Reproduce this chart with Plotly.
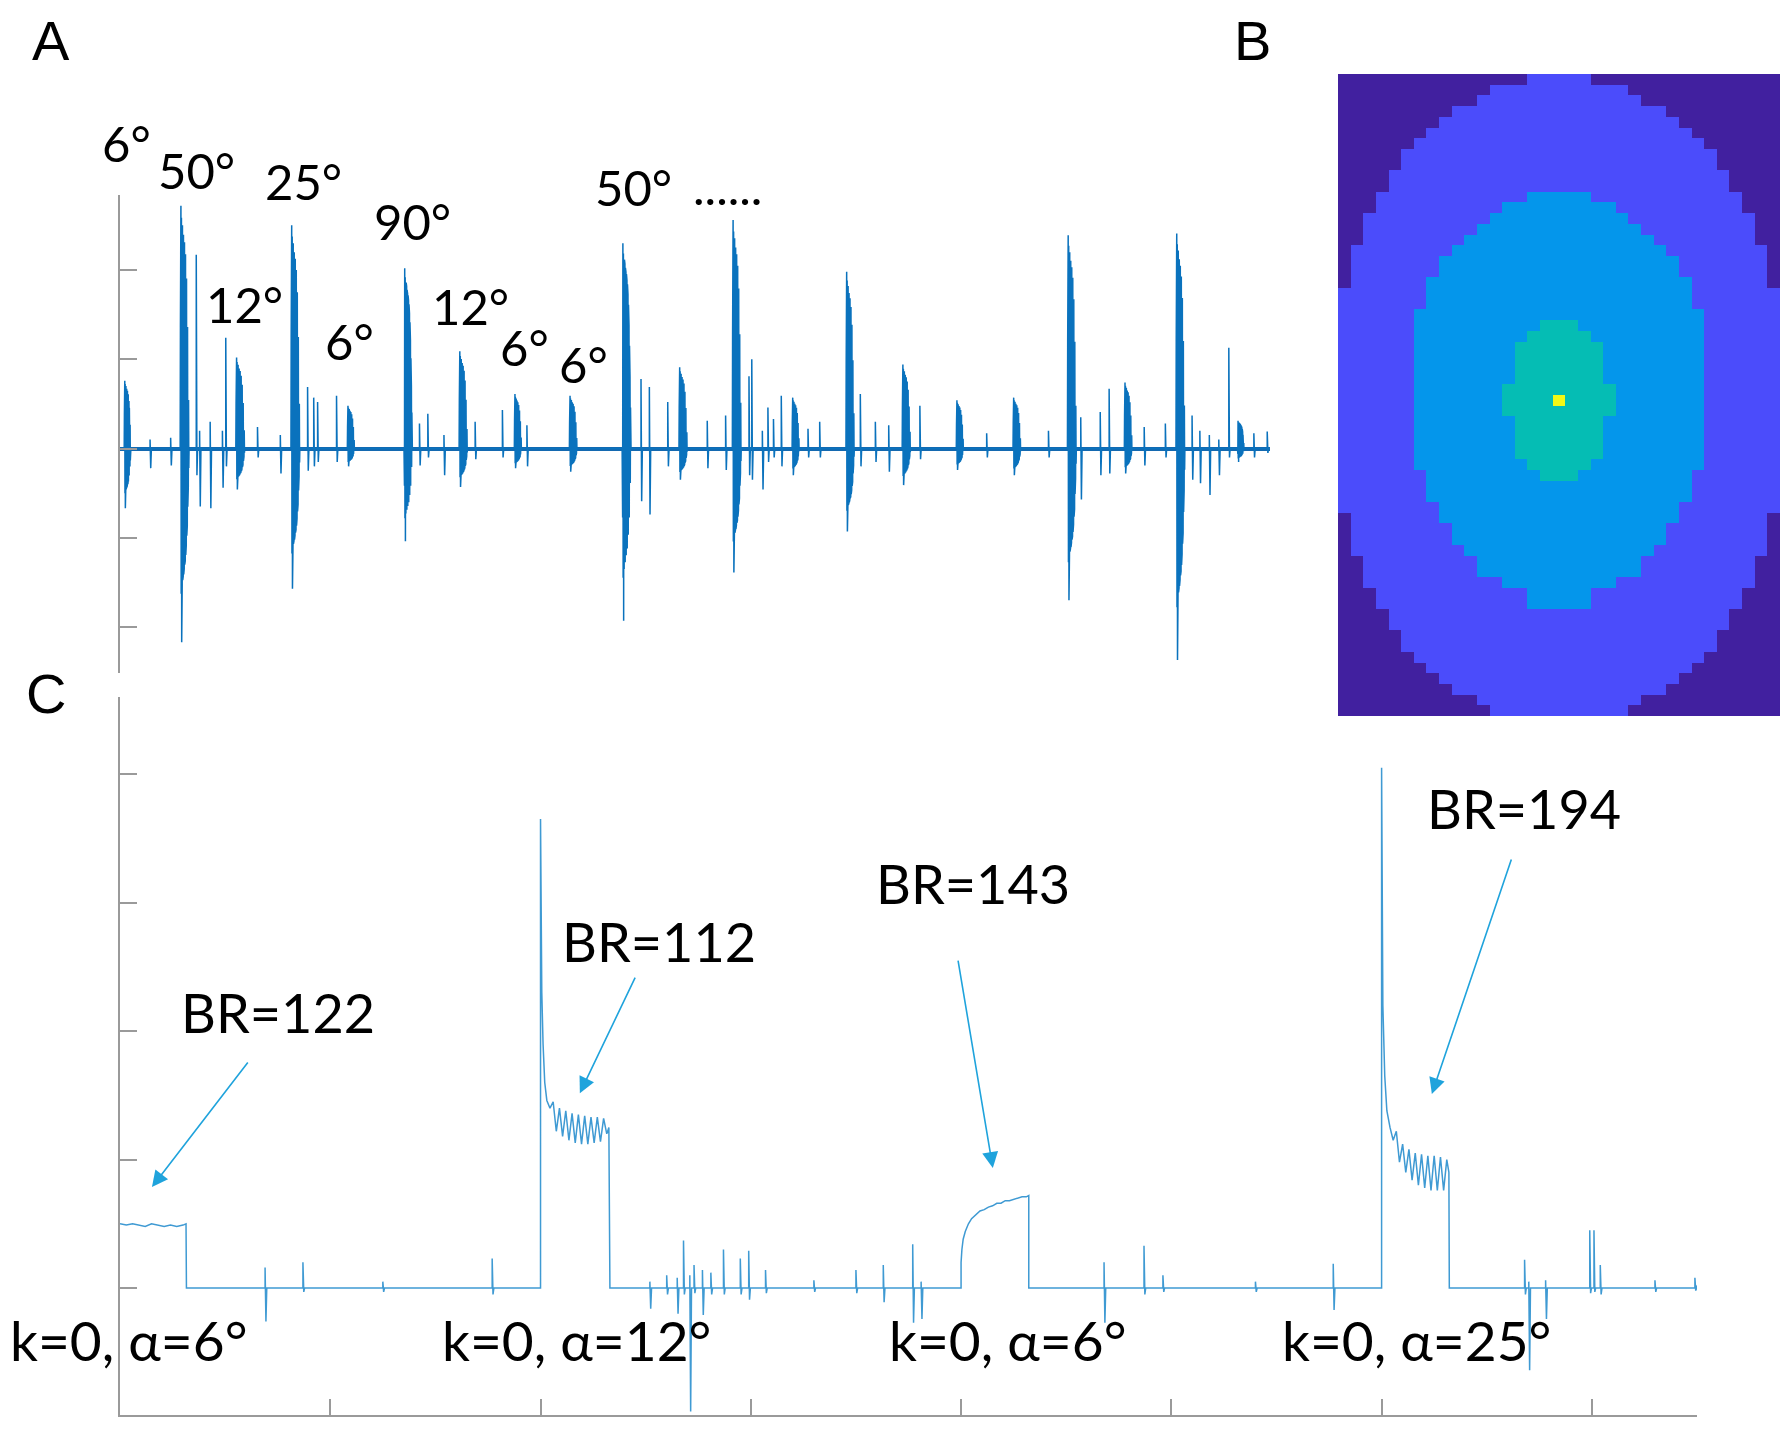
import plotly.graph_objects as go

# page geometry (the html body keeps its default 8px margin)
PAGE_W, PAGE_H, OFF = 1789, 1429, 8
FW, FH = PAGE_W - 2 * OFF, PAGE_H - 2 * OFF


def px(x):
    return (x - OFF) / FW


def py(y):
    return 1 - (y - OFF) / FH


# ---------------- Panel A : burst train (arbitrary units) ----------------
A_burst_t = [0.09, 1.10, 2.10, 3.09, 4.10, 5.12, 6.11, 7.10, 8.09, 9.04, 10.06,
             11.02, 12.09, 13.06, 14.07, 15.04, 16.06, 17.04, 18.06, 18.99, 20.09]
A_burst_top = [0.76, 2.72, 1.02, 2.50, 0.48, 2.02, 1.09, 0.61, 0.59, 2.30, 0.91,
               2.56, 0.57, 1.98, 0.94, 0.54, 0.57, 2.39, 0.74, 2.41, 0.31]
A_burst_bottom = [-0.67, -2.17, -0.46, -1.57, -0.20, -1.04, -0.43, -0.22, -0.26, -1.93, -0.35,
                  -1.39, -0.30, -0.93, -0.41, -0.24, -0.30, -1.70, -0.28, -2.37, -0.15]
A_burst_width = [0.12, 0.16, 0.16, 0.16, 0.13, 0.15, 0.15, 0.13, 0.14, 0.16, 0.15,
                 0.16, 0.13, 0.15, 0.15, 0.13, 0.14, 0.16, 0.14, 0.16, 0.12]
# normalised oscillation of one burst (read from the largest bursts)
A_shape = [0.0, 0.5, -0.4, 1.0, -0.75, 0.95, -1.0, 0.9, -0.7, 0.92, -0.68, 0.9, -0.66,
           0.88, -0.65, 0.86, -0.62, 0.85, -0.6, 0.82, -0.58, 0.8, -0.55, 0.75, -0.5,
           0.7, -0.45, 0.6, -0.4, 0.5, -0.3, 0.35, -0.2, 0.2, -0.1, 0.0]
A_spike_t = [0.54, 0.91, 1.37, 1.43, 1.62, 1.84, 1.90, 2.47, 2.88, 3.37, 3.48, 3.55, 3.89,
             5.38, 5.53, 5.82, 6.38, 6.87, 7.31, 9.36, 9.51, 9.84, 10.55, 10.88, 11.30,
             11.35, 11.54, 11.64, 11.74, 11.88, 12.36, 12.57, 13.30, 13.57, 13.81, 14.37,
             15.57, 16.68, 17.26, 17.61, 17.77, 18.40, 18.78, 19.26, 19.40, 19.57, 19.74,
             19.92, 20.37, 20.61]
A_spike_up = [0.10, 0.12, 2.17, 0.20, 0.30, 0.20, 1.24, 0.24, 0.15, 0.69, 0.57, 0.52, 0.59,
              0.28, 0.39, 0.15, 0.30, 0.43, 0.26, 0.78, 0.69, 0.52, 0.31, 0.37, 0.81,
              1.00, 0.20, 0.46, 0.33, 0.59, 0.22, 0.30, 0.61, 0.30, 0.26, 0.48,
              0.17, 0.20, 0.35, 0.41, 0.67, 0.24, 0.28, 0.37, 0.20, 0.15, 0.10,
              1.13, 0.17, 0.19]
A_spike_dn = [-0.22, -0.19, -0.30, -0.65, -0.67, -0.44, -0.20, -0.10, -0.28, -0.25, -0.20, -0.15, -0.15,
              -0.19, -0.10, -0.30, -0.12, -0.10, -0.20, -0.59, -0.74, -0.20, -0.22, -0.24, -0.30,
              -0.35, -0.46, -0.15, -0.10, -0.20, -0.10, -0.10, -0.20, -0.15, -0.26, -0.12,
              -0.10, -0.10, -0.57, -0.30, -0.28, -0.19, -0.10, -0.35, -0.39, -0.52, -0.30,
              -0.10, -0.10, -0.05]
A_end = 20.66
A_labels = ["6°", "50°", "25°", "12°", "90°", "6°", "12°", "6°", "6°", "50°", "......"]

# ---------------- Panel B : discrete map (rows x 35 columns) ----------------
B_ncols = 35
B_center_col = 17
# half-width (in cells) of each level per row, -1 = level absent in that row
B_hw_level1 = [2, 5, 6, 8, 9, 10, 11, 12, 12, 13, 13, 14, 14, 15, 15, 15, 16, 16, 16, 16,
               17, 17, 17, 17, 17, 17, 17, 17, 17, 17, 17, 17, 17, 17, 17, 17, 17, 17, 17, 17,
               17, 16, 16, 16, 16, 15, 15, 15, 14, 14, 13, 13, 12, 12, 11, 10, 9, 8, 6, 5]
B_hw_level2 = [-1] * 11 + [2, 4, 5, 6, 7, 8, 9, 9, 10, 10,
                           10, 11, 11, 11, 11, 11, 11, 11, 11, 11,
                           11, 11, 11, 11, 11, 11, 10, 10, 10, 9,
                           9, 8, 8, 7, 6, 6, 4, 2, 2] + [-1] * 10
B_hw_level3 = [-1] * 23 + [1, 2, 3, 3, 3, 3, 4, 4, 4, 3, 3, 3, 3, 2, 1] + [-1] * 22
B_hw_level4 = [-1] * 30 + [0] + [-1] * 29
B_colors = ["#41209f", "#4b4cfb", "#0496eb", "#05bdb4", "#f3f815"]

# ---------------- Panel C : traces with plateaus ----------------
C_plateau1_x = [0.0, 0.03, 0.06, 0.09, 0.12, 0.15, 0.18, 0.21, 0.24, 0.27, 0.30, 0.314, 0.316]
C_plateau1_y = [0.50, 0.49, 0.50, 0.49, 0.48, 0.50, 0.49, 0.48, 0.49, 0.48, 0.49, 0.50, 0.0]
C_ev2_x = [2.0, 2.0, 2.006, 2.012, 2.02, 2.03, 2.045, 2.06, 2.075, 2.09, 2.105, 2.12, 2.135,
           2.15, 2.165, 2.18, 2.195, 2.21, 2.225, 2.24, 2.255, 2.27, 2.285, 2.30, 2.315,
           2.325, 2.33]
C_ev2_y = [0, 3.65, 2.3, 1.9, 1.6, 1.46, 1.40, 1.45, 1.22, 1.40, 1.18, 1.38, 1.15, 1.36,
           1.13, 1.35, 1.12, 1.34, 1.12, 1.33, 1.13, 1.33, 1.14, 1.32, 1.20, 1.25, 0]
C_ev3_x = [4.0, 4.0, 4.004, 4.01, 4.02, 4.035, 4.05, 4.07, 4.09, 4.11, 4.13, 4.15, 4.17,
           4.19, 4.21, 4.23, 4.25, 4.27, 4.29, 4.31, 4.322, 4.322]
C_ev3_y = [0, 0.2, 0.3, 0.38, 0.44, 0.5, 0.54, 0.57, 0.6, 0.61, 0.63, 0.64, 0.66, 0.66,
           0.68, 0.68, 0.69, 0.70, 0.71, 0.71, 0.72, 0]
C_ev4_x = [6.0, 6.0, 6.006, 6.015, 6.025, 6.04, 6.055, 6.07, 6.085, 6.10, 6.115, 6.13,
           6.145, 6.16, 6.175, 6.19, 6.205, 6.22, 6.235, 6.25, 6.265, 6.28, 6.295, 6.31,
           6.32, 6.322]
C_ev4_y = [0, 4.05, 2.2, 1.65, 1.38, 1.25, 1.15, 1.22, 0.98, 1.12, 0.9, 1.08, 0.84, 1.05,
           0.8, 1.04, 0.78, 1.03, 0.76, 1.03, 0.76, 1.02, 0.76, 1.0, 0.9, 0]
C_spike_x = [0.69, 0.87, 1.25, 1.77, 2.52, 2.60, 2.65, 2.68, 2.71, 2.73, 2.77, 2.81, 2.87,
             2.95, 2.99, 3.07, 3.30, 3.50, 3.63, 3.77, 3.81, 4.68, 4.87, 4.96, 5.40, 5.77,
             6.68, 6.70, 6.78, 6.99, 7.01, 7.04, 7.30, 7.49]
C_spike_up = [0.16, 0.20, 0.05, 0.23, 0.05, 0.10, 0.08, 0.37, 0.10, 0.18, 0.14, 0.12, 0.30,
              0.23, 0.29, 0.14, 0.06, 0.14, 0.18, 0.34, 0.05, 0.20, 0.33, 0.10, 0.05, 0.19,
              0.22, 0.05, 0.06, 0.45, 0.45, 0.18, 0.06, 0.08]
C_spike_dn = [-0.26, -0.03, -0.03, -0.05, -0.16, -0.05, -0.20, -0.05, -0.96, -0.04, -0.21, -0.05, -0.05,
              -0.05, -0.09, -0.04, -0.03, -0.04, -0.11, -0.27, -0.24, -0.27, -0.05, -0.03, -0.03, -0.17,
              -0.05, -0.64, -0.24, -0.04, -0.03, -0.05, -0.03, -0.02]
C_end = 7.5
C_br_labels = ["BR=122", "BR=112", "BR=143", "BR=194"]
C_k_labels = ["k=0, α=6°", "k=0, α=12°", "k=0, α=6°", "k=0, α=25°"]

# ---------------- build series ----------------
events = []
for t, top, bot, w in zip(A_burst_t, A_burst_top, A_burst_bottom, A_burst_width):
    n = len(A_shape)
    t0 = t - 0.12 * w
    xs = [t0 + w * k / (n - 1) for k in range(n)]
    ys = [s * top if s >= 0 else -s * bot for s in A_shape]
    events.append((t0, xs, ys))
for t, up, dn in zip(A_spike_t, A_spike_up, A_spike_dn):
    events.append((t, [t, t, t + 0.012, t + 0.024], [0, up, dn, 0]))
events.sort(key=lambda e: e[0])
A_x, A_y = [0.0], [0.0]
for _, xs, ys in events:
    A_x += xs
    A_y += ys
A_x.append(A_end)
A_y.append(0.0)

c_events = [(C_plateau1_x[0], C_plateau1_x, C_plateau1_y),
            (C_ev2_x[0], C_ev2_x, C_ev2_y),
            (C_ev3_x[0], C_ev3_x, C_ev3_y),
            (C_ev4_x[0], C_ev4_x, C_ev4_y)]
for t, up, dn in zip(C_spike_x, C_spike_up, C_spike_dn):
    c_events.append((t, [t, t, t + 0.004, t + 0.008], [0, up, dn, 0]))
c_events.sort(key=lambda e: e[0])
C_x, C_y = [], []
for _, xs, ys in c_events:
    C_x += xs
    C_y += ys
C_x.append(C_end)
C_y.append(0.02)

B_z = []
for r in range(len(B_hw_level1)):
    row = []
    for c in range(B_ncols):
        d = abs(c - B_center_col)
        lvl = 0
        for L, hw in enumerate([B_hw_level1, B_hw_level2, B_hw_level3, B_hw_level4], start=1):
            if hw[r] >= d:
                lvl = L
        row.append(lvl)
    B_z.append(row)

cs = []
nlev = len(B_colors)
for i, col in enumerate(B_colors):
    lo = max(0.0, (i - 0.5) / (nlev - 1))
    hi = min(1.0, (i + 0.5) / (nlev - 1))
    cs.append([lo, col])
    cs.append([hi, col])

# ---------------- figure ----------------
fig = go.Figure()
fig.add_trace(go.Scatter(x=A_x, y=A_y, mode="lines", xaxis="x", yaxis="y",
                         line=dict(color="#0a72bd", width=1.5), hoverinfo="skip"))
fig.add_trace(go.Heatmap(z=B_z, xaxis="x2", yaxis="y2", colorscale=cs, zmin=0,
                         zmax=nlev - 1, showscale=False, hoverinfo="skip"))
fig.add_trace(go.Scatter(x=C_x, y=C_y, mode="lines", xaxis="x3", yaxis="y3",
                         line=dict(color="#3f9ad3", width=1.5), hoverinfo="skip"))

axis_grey = "#9a9a9a"
fig.update_layout(
    width=FW, height=FH, margin=dict(l=0, r=0, t=0, b=0),
    paper_bgcolor="white", plot_bgcolor="rgba(0,0,0,0)", showlegend=False,
    xaxis=dict(domain=[px(120), px(1270)], range=[0, A_end], visible=False, anchor="y"),
    yaxis=dict(domain=[py(673), py(195)], range=[-2.515, 2.84], anchor="x",
               showline=True, linecolor=axis_grey, linewidth=2,
               ticks="inside", tickvals=[-2, -1, 0, 1, 2], ticklen=17, tickwidth=2,
               tickcolor=axis_grey, showticklabels=False, showgrid=False,
               zeroline=True, zerolinecolor="#1469b0", zerolinewidth=4),
    xaxis2=dict(domain=[px(1338), px(1780)], range=[-0.5, B_ncols - 0.5], visible=False,
                anchor="y2"),
    yaxis2=dict(domain=[py(716), py(74)], range=[len(B_z) - 0.5, -0.5], visible=False,
                anchor="x2"),
    xaxis3=dict(domain=[px(120), px(1697)], range=[0, C_end], anchor="y3",
                showline=True, linecolor=axis_grey, linewidth=2,
                ticks="inside", tickvals=[1, 2, 3, 4, 5, 6, 7], ticklen=16, tickwidth=2,
                tickcolor=axis_grey, showticklabels=False, showgrid=False, zeroline=False),
    yaxis3=dict(domain=[py(1415), py(697)], range=[-0.988, 4.60], anchor="x3",
                showline=True, linecolor=axis_grey, linewidth=2,
                ticks="inside", tickvals=[0, 1, 2, 3, 4], ticklen=17, tickwidth=2,
                tickcolor=axis_grey, showticklabels=False, showgrid=False, zeroline=False),
)

ann = []
# panel letters
for txt, x, y in [("A", 51, 41), ("B", 1252, 41), ("C", 46, 693)]:
    ann.append(dict(text=txt, x=px(x), y=py(y), xref="paper", yref="paper",
                    showarrow=False, xanchor="center", yanchor="middle",
                    font=dict(family="Liberation Sans, Arial", size=56, color="black")))
# panel A angle labels
A_label_pos = [(126, 143), (196, 170), (303, 181), (244, 304), (412, 221), (349, 341),
               (470, 306), (524, 347), (583, 364), (633, 187), (727, 186)]
for txt, (x, y) in zip(A_labels, A_label_pos):
    ann.append(dict(text=txt, x=px(x), y=py(y), xref="paper", yref="paper",
                    showarrow=False, xanchor="center", yanchor="middle",
                    font=dict(family="Lato", size=49, color="black")))
# panel C labels
for txt, (x, y) in zip(C_br_labels, [(278, 1013), (659, 941), (973, 883), (1524, 808)]):
    ann.append(dict(text=txt, x=px(x), y=py(y), xref="paper", yref="paper",
                    showarrow=False, xanchor="center", yanchor="middle",
                    font=dict(family="Lato", size=54, color="black")))
for txt, (x, y) in zip(C_k_labels, [(129, 1340), (576, 1340), (1007, 1340), (1416, 1340)]):
    ann.append(dict(text=txt, x=px(x), y=py(y), xref="paper", yref="paper",
                    showarrow=False, xanchor="center", yanchor="middle",
                    font=dict(family="Lato", size=55, color="black")))
# arrows: head in data coords of panel C, tail as pixel offset
for hx, hy, axo, ayo in [(0.152, 0.786, 97, -126), (2.187, 1.517, 56, -117),
                         (4.151, 0.934, -35, -209), (6.239, 1.51, 80, -236)]:
    ann.append(dict(text="", x=hx, y=hy, xref="x3", yref="y3", ax=axo, ay=ayo,
                    axref="pixel", ayref="pixel", showarrow=True, arrowhead=2,
                    arrowsize=2, arrowwidth=1.6, arrowcolor="#1fa3dc", standoff=0))
fig.update_layout(annotations=ann)

fig.write_html("out.html")
